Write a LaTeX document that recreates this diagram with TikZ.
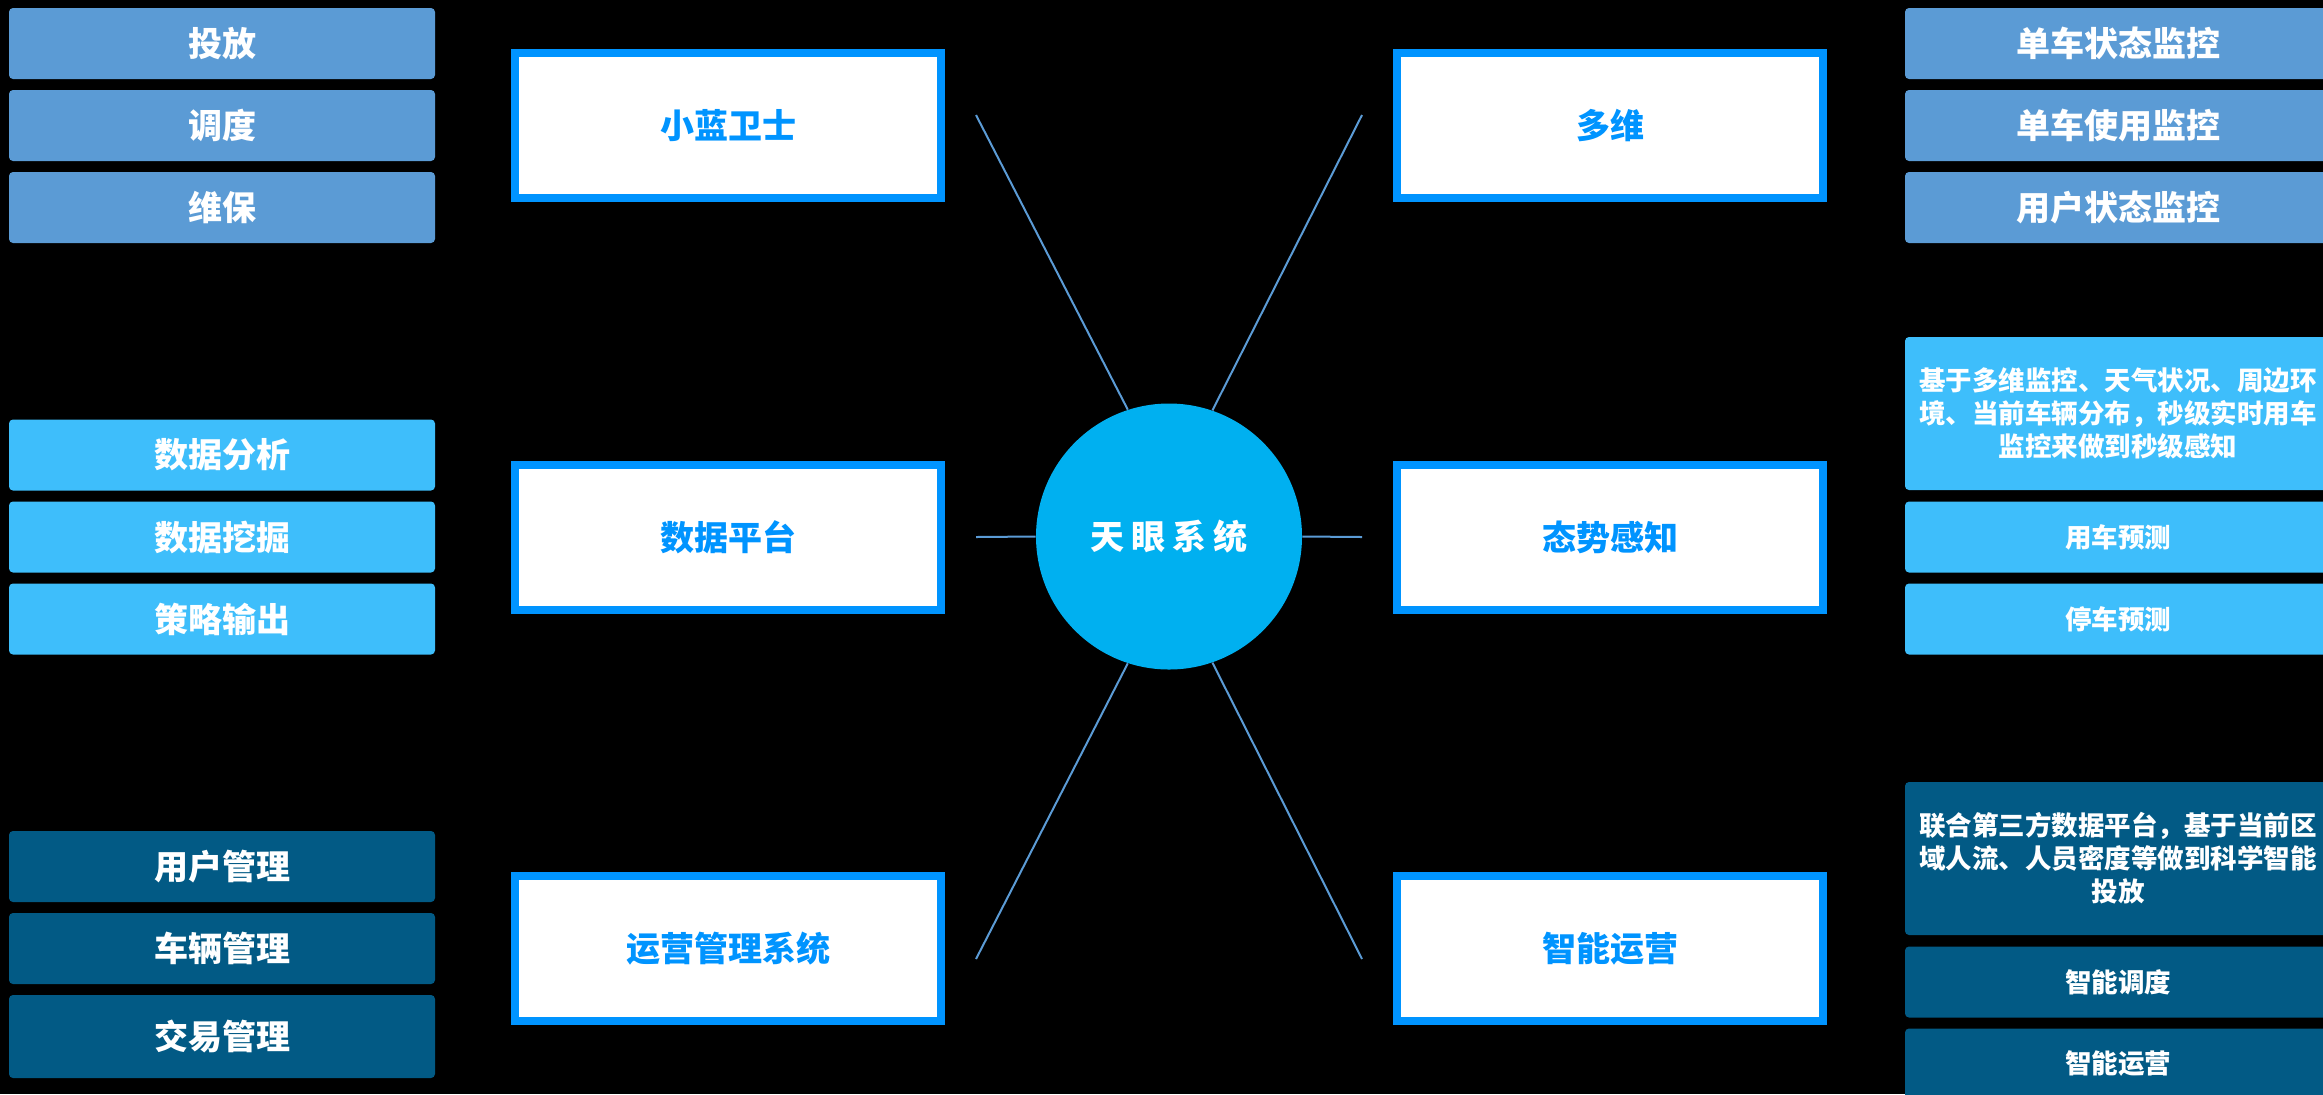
\documentclass[tikz,border=0pt]{standalone}
\usepackage{fontspec}
\setmainfont{Noto Sans CJK SC}
\definecolor{pale}{HTML}{5B9BD5}
\definecolor{sky}{HTML}{3EBEFB}
\definecolor{deep}{HTML}{025A85}
\definecolor{ring}{HTML}{0094FF}
\definecolor{hubblue}{HTML}{00B0F0}
\tikzset{
  leaf/.style={rounded corners=2pt, inner sep=0pt, text=white,
    minimum width=213pt, minimum height=35.5pt,
    font=\bfseries\fontsize{17}{20}\selectfont},
  small/.style={leaf, align=center, font=\bfseries\fontsize{13.25}{16.5}\selectfont},
  topic/.style={draw=ring, line width=4pt, fill=white, text=ring, inner sep=0pt,
    minimum width=213pt, minimum height=72.5pt,
    font=\bfseries\fontsize{17}{20}\selectfont},
  hub/.style={circle, fill=hubblue, text=white, inner sep=0pt, minimum size=133pt,
    font=\bfseries\fontsize{17}{20}\selectfont},
  spoke/.style={draw=pale, line width=1pt}
}
\begin{document}
\begin{tikzpicture}[x=0.5pt, y=-0.5pt]
      \fill[black] (0,0) rectangle (2323,1094);
      \useasboundingbox (0,0) rectangle (2323,1094);
      % left column
      \path
        (222,43.5) node[leaf, fill=pale] (tf){投放}
        (222,125.5) node[leaf, fill=pale] (dd){调度}
        (222,207.5) node[leaf, fill=pale] (wb){维保}
        (222,455) node[leaf, fill=sky] (fx){数据分析}
        (222,537) node[leaf, fill=sky] (wj){数据挖掘}
        (222,619) node[leaf, fill=sky] (cl){策略输出}
        (222,866.5) node[leaf, fill=deep] (yh){用户管理}
        (222,948.5) node[leaf, fill=deep] (cg){车辆管理}
        (222,1036.5) node[leaf, fill=deep, minimum height=41.5pt] (jy){交易管理};
      % right column
      \path
        (2118,43.5) node[leaf, fill=pale] (zt){单车状态监控}
        (2118,125.5) node[leaf, fill=pale] (sy){单车使用监控}
        (2118,207.5) node[leaf, fill=pale] (yz){用户状态监控}
        (2118,413.5) node[small, fill=sky, minimum height=76.5pt] (gz)
          {基于多维监控、天气状况、周边环\\境、当前车辆分布，秒级实时用车\\监控来做到秒级感知}
        (2118,537) node[small, fill=sky] (yc){用车预测}
        (2118,619) node[small, fill=sky] (tc){停车预测}
        (2118,858.5) node[small, fill=deep, minimum height=76.5pt] (lh)
          {联合第三方数据平台，基于当前区\\域人流、人员密度等做到科学智能\\投放}
        (2118,982) node[small, fill=deep] (zd){智能调度}
        (2118,1064) node[small, fill=deep] (zy){智能运营};
      % middle
      \path
        (728,125.5) node[topic] (xl){小蓝卫士}
        (728,537.5) node[topic] (sj){数据平台}
        (728,948.5) node[topic] (yy){运营管理系统}
        (1610,125.5) node[topic] (dw){多维}
        (1610,537.5) node[topic] (ts){态势感知}
        (1610,948.5) node[topic] (zn){智能运营}
        (1169,536.5) node[hub] (sys){天\hspace{3.5pt}眼\hspace{3.5pt}系\hspace{3.5pt}统};
      \coordinate (e1) at (976,115);
      \coordinate (e2) at (976,537);
      \coordinate (e3) at (976,959);
      \coordinate (e4) at (1362,115);
      \coordinate (e5) at (1362,537);
      \coordinate (e6) at (1362,959);
      \begin{scope}[spoke]
        \draw (e1) to (sys.108.4);
        \draw (e2) to (sys.west);
        \draw (e3) to (sys.-108.4);
        \draw (e4) to (sys.71.6);
        \draw (e5) to (sys.east);
        \draw (e6) to (sys.-71.6);
      \end{scope}
    \end{tikzpicture}
\end{document}
